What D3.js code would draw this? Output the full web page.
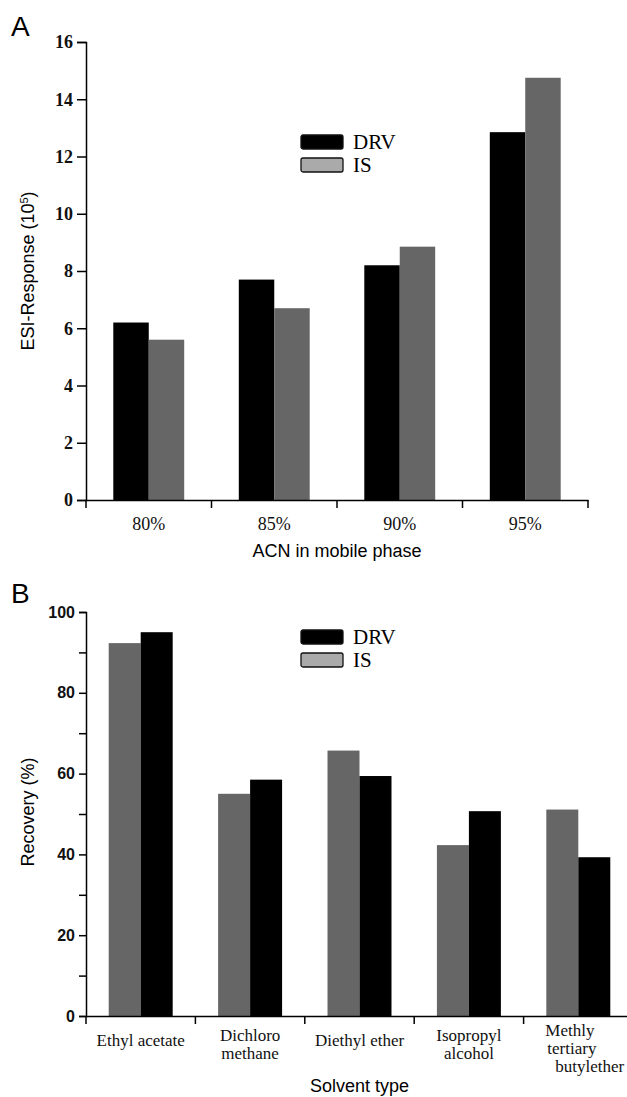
<!DOCTYPE html>
<html>
<head>
<meta charset="utf-8">
<script src="https://cdn.jsdelivr.net/npm/d3@7"></script>
<style>
  body { margin: 0; background: #fff; }
  svg { display: block; }
</style>
</head>
<body>
<svg id="chart"></svg>
<script>
// panel A : ESI response vs ACN content
var acnLevels = ["80%", "85%", "90%", "95%"];
var drvResponse = [6.2, 7.7, 8.2, 12.85];
var isResponse = [5.6, 6.7, 8.85, 14.75];
var responseTicks = [0, 2, 4, 6, 8, 10, 12, 14, 16];

// panel B : recovery vs extraction solvent
var solvents = ["Ethyl acetate", "Dichloro methane", "Diethyl ether", "Isopropyl alcohol", "Methly tertiary butylether"];
var solventLines = [["Ethyl acetate"], ["Dichloro", "methane"], ["Diethyl ether"], ["Isopropyl", "alcohol"], ["Methly", "tertiary", "butylether"]];
var isRecovery = [92.3, 55.0, 65.7, 42.3, 51.1];
var drvRecovery = [95.0, 58.5, 59.4, 50.7, 39.3];
var recoveryTicks = [0, 10, 20, 30, 40, 50, 60, 70, 80, 90, 100];

var W = 627, H = 1097;
var svg = d3.select("#chart").attr("width", W).attr("height", H);

var serif = "'Liberation Serif', 'Times New Roman', serif";
var sans = "'Liberation Sans', Arial, sans-serif";
var colors = {DRV: "#000", IS: "#666"};

function panel(opt) {
    var g = svg.append("g");
    var y = d3.scaleLinear().domain(opt.yDomain).range([opt.bottom, opt.top]);
    var x0 = d3.scaleBand().domain(opt.cats).range([opt.left, opt.right]);
    var x1 = d3.scaleBand().domain(opt.order).range([0, x0.bandwidth()]).paddingOuter(opt.pad);

    var rows = opt.cats.map((c, i) => ({cat: c, vals: opt.order.map(s => ({key: s, value: opt.data[s][i]}))}));

    // bars
    g.selectAll("g.grp")
        .data(rows)
        .join("g")
        .attr("class", "grp")
        .attr("transform", d => `translate(${x0(d.cat)},0)`)
        .selectAll("rect")
        .data(d => d.vals)
        .join("rect")
        .attr("x", d => x1(d.key))
        .attr("width", x1.bandwidth())
        .attr("y", d => y(d.value))
        .attr("height", d => y(0) - y(d.value))
        .attr("fill", d => colors[d.key]);

    // y axis
    var ya = g.append("g")
        .attr("transform", `translate(${opt.left},0)`)
        .call(d3.axisLeft(y).tickValues(opt.yTicks).tickSize(opt.tickLen).tickPadding(4)
            .tickFormat(d => opt.yLabel(d) ? d : ""));
    ya.select(".domain").attr("stroke-width", 1.5);
    ya.selectAll(".tick line").attr("stroke-width", 1.5);
    ya.selectAll("text")
        .style("font-family", opt.yFont)
        .style("font-weight", "bold")
        .style("font-size", opt.yFontSize + "px")
        .attr("fill", "#111");

    // x axis: line + ticks on category boundaries
    var xa = g.append("g")
        .attr("transform", `translate(0,${opt.bottom})`)
        .call(d3.axisBottom(x0).tickSize(0).tickFormat(""));
    xa.select(".domain").attr("stroke-width", 1.5);
    xa.selectAll(".tick").remove();
    var bounds = opt.cats.map(c => x0(c)).concat([x0.range()[1]]);
    xa.selectAll("line.bnd")
        .data(bounds)
        .join("line")
        .attr("class", "bnd")
        .attr("x1", d => d).attr("x2", d => d)
        .attr("y1", 0).attr("y2", 8)
        .attr("stroke", "#000")
        .attr("stroke-width", 1.5);

    // category labels (multi-line ones sit a bit higher)
    var lab = g.append("g")
        .selectAll("text")
        .data(opt.cats)
        .join("text")
        .attr("text-anchor", (d, i) => opt.labelDx && opt.labelDx[i] ? "start" : "middle")
        .style("font-family", serif)
        .style("font-size", opt.xFontSize + "px")
        .attr("fill", "#111");
    lab.selectAll("tspan")
        .data((d, i) => opt.lines[i].map((t, k) => ({t: t, k: k, i: i, c: d, n: opt.lines[i].length})))
        .join("tspan")
        .attr("x", d => x0(d.c) + x0.bandwidth() / 2 + (opt.labelDx && opt.labelDx[d.i] ? opt.labelDx[d.i][d.k] : 0))
        .attr("y", d => opt.bottom + opt.labelY - (d.n - 1) * 5 + d.k * opt.lineH)
        .text(d => d.t);

    // axis titles
    g.append("text")
        .attr("x", (opt.left + opt.right) / 2)
        .attr("y", opt.xTitleY)
        .attr("text-anchor", "middle")
        .style("font-family", sans)
        .style("font-size", "18px")
        .text(opt.xTitle);

    var yt = g.append("text")
        .attr("transform", `translate(${opt.yTitleX},${opt.yTitleY}) rotate(-90)`)
        .attr("text-anchor", "middle")
        .style("font-family", sans)
        .style("font-size", "18px");
    opt.yTitle.forEach(p => {
        yt.append("tspan").text(p.t)
            .attr("baseline-shift", p.sup ? "super" : null)
            .style("font-size", p.sup ? "11px" : null);
    });

    // panel letter
    g.append("text")
        .attr("x", 11).attr("y", opt.letterY)
        .style("font-family", sans)
        .style("font-size", "28px")
        .text(opt.letter);

    // legend
    var lg = g.append("g").attr("transform", `translate(301,${opt.legendY})`);
    var items = [{k: "DRV", fill: "#000"}, {k: "IS", fill: "#aaa"}];
    lg.selectAll("rect")
        .data(items)
        .join("rect")
        .attr("x", 0).attr("y", (d, i) => i * 23)
        .attr("width", 42).attr("height", 14)
        .attr("rx", 2)
        .attr("fill", d => d.fill)
        .attr("stroke", "#111")
        .attr("stroke-width", 1.3);
    lg.selectAll("text")
        .data(items)
        .join("text")
        .attr("x", 52).attr("y", (d, i) => i * 23 + 14)
        .style("font-family", serif)
        .style("font-size", "21px")
        .text(d => d.k);
}

panel({
    letter: "A", letterY: 36,
    cats: acnLevels, lines: acnLevels.map(d => [d]),
    order: ["DRV", "IS"],
    data: {DRV: drvResponse, IS: isResponse},
    yDomain: [0, 16], yTicks: responseTicks, yLabel: d => true,
    yFont: serif, yFontSize: 18, tickLen: 9,
    left: 86, right: 588, top: 42, bottom: 500, pad: 0.77,
    xFontSize: 18, labelY: 30, lineH: 18,
    xTitle: "ACN in mobile phase", xTitleY: 557,
    yTitle: [{t: "ESI-Response (10"}, {t: "5", sup: true}, {t: ")"}],
    yTitleX: 34, yTitleY: 271,
    legendY: 135
});

panel({
    letter: "B", letterY: 603,
    cats: solvents, lines: solventLines,
    order: ["IS", "DRV"],
    data: {DRV: drvRecovery, IS: isRecovery},
    yDomain: [0, 100], yTicks: recoveryTicks, yLabel: d => d % 20 === 0,
    yFont: sans, yFontSize: 16, tickLen: 7,
    left: 86, right: 633, top: 612, bottom: 1016, pad: 0.71,
    xFontSize: 17, labelY: 30, lineH: 18,
    labelDx: [null, null, null, null, [-33, -31, -23]],
    xTitle: "Solvent type", xTitleY: 1092,
    yTitle: [{t: "Recovery (%)"}],
    yTitleX: 34, yTitleY: 812,
    legendY: 630
});
</script>
</body>
</html>
